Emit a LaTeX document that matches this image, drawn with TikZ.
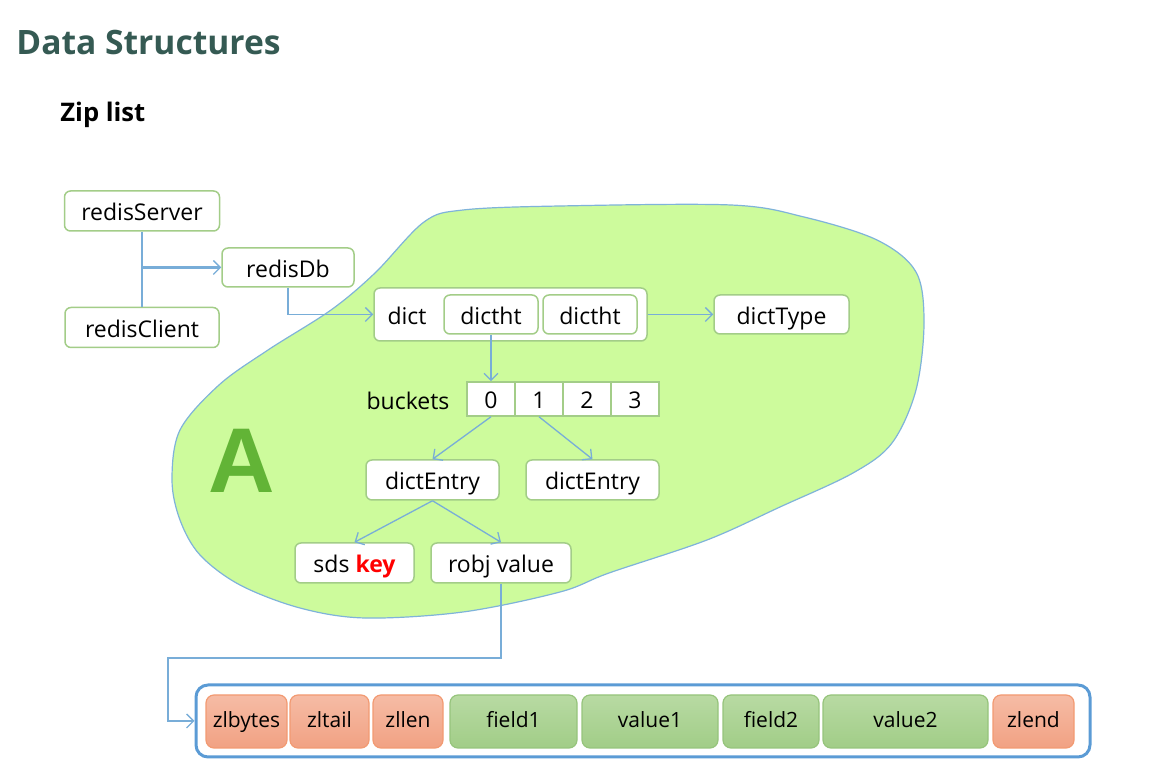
\documentclass[tikz,border=0pt]{standalone}
\usepackage{fontspec}
\setmainfont{Open Sans}
\newfontfamily\bigfont{Liberation Sans}
\usepackage{tikz}
\usetikzlibrary{arrows.meta}
\usepackage{xcolor}
\definecolor{titlecol}{HTML}{355A53}
\definecolor{boxline}{HTML}{A3CD88}
\definecolor{arrowcol}{HTML}{78ADD8}
\definecolor{blobfill}{HTML}{CDFB9C}
\definecolor{blobline}{HTML}{7FB3DA}
\definecolor{zipline}{HTML}{5B9BD5}
\definecolor{orangetop}{HTML}{F6BCA5}
\definecolor{orangebot}{HTML}{F1A183}
\definecolor{orangeline}{HTML}{F29A72}
\definecolor{greentop}{HTML}{B8DAA3}
\definecolor{greenbot}{HTML}{A1CD87}
\definecolor{greenline}{HTML}{96C47C}
\definecolor{bigA}{HTML}{62B436}

\begin{document}
\begin{tikzpicture}[x=0.5pt,y=-0.5pt]
  \tikzset{box/.style = {shape=rectangle,draw=boxline,fill=white,rounded corners=3pt,line width=0.75pt,inner sep=0pt,minimum height=20pt,text height=10pt,text depth=0pt,font=\fontsize{11.5}{14}\selectfont}}
  \tikzset{cellbox/.style = {shape=rectangle,draw=boxline,fill=white,line width=0.75pt,inner sep=0pt,minimum width=24pt,minimum height=17pt,text height=10pt,text depth=0pt,font=\fontsize{11.5}{14}\selectfont}}
  \tikzset{plain/.style = {inner sep=0pt,text height=10pt,text depth=0pt,font=\fontsize{11.5}{14}\selectfont}}
  \tikzset{zlorange/.style = {shape=rectangle,draw=orangeline,top color=orangetop,bottom color=orangebot,rounded corners=4pt,line width=0.6pt,inner sep=0pt,minimum height=26.5pt,text height=8.5pt,text depth=2pt,font=\fontsize{10.5}{13}\selectfont}}
  \tikzset{zlgreen/.style = {shape=rectangle,draw=greenline,top color=greentop,bottom color=greenbot,rounded corners=4pt,line width=0.6pt,inner sep=0pt,minimum height=26.5pt,text height=8.5pt,text depth=2pt,font=\fontsize{10.5}{13}\selectfont}}
  \tikzset{edge/.style = {draw=arrowcol,line width=0.65pt,-tipB}}
  \tikzset{%
  tipB/.tip={Straight Barb[length=3.5pt,width=7pt,line width=0.65pt]},
}

  \useasboundingbox (0,0) rectangle (1174,774);

  % headings
  \node[anchor=base west,inner sep=0pt,text=titlecol,font=\fontsize{16.8}{20}\selectfont\bfseries] (title) at (16,55) {Data Structures};
  \node[anchor=base west,inner sep=0pt,font=\fontsize{12.8}{15}\selectfont\bfseries] (sub) at (60,122) {Zip list};

  % the blob
  \filldraw[fill=blobfill,draw=blobline,line width=0.6pt] plot[smooth cycle,tension=0.55] coordinates {
    (424,222) (463,210) (560,206) (731,205) (804,217) (877,240) (916,272) (924,323)
    (916,390) (892,443) (853,473) (780,507) (707,540) (609,573) (560,592) (463,612)
    (365,618) (300,608) (240,585) (200,555) (180,520) (172,480) (180,430) (219,385)
    (268,350) (331,310) (375,273)};
  \node[anchor=base,inner sep=0pt,text=bigA,font=\bigfont\bfseries\fontsize{46}{50}\selectfont] (A) at (241.5,493) {A};

  % server side
  \node[box,minimum width=77.5pt] (RS) at (142,211) {redisServer};
  \node[box,minimum width=77pt] (RC) at (142,327.5) {redisClient};
  \node[box,minimum width=66pt,minimum height=19.5pt] (DB) at (288,267.5) {redisDb};
  \coordinate (J) at (142,267.5);

  % dict
  \node[box,minimum width=136.5pt,minimum height=26.5pt] (D) at (510.5,314.5) {};
  \node[plain] (Dl) at (407,315) {dict};
  \node[box,minimum width=47pt,minimum height=19.5pt] (H1) at (491,314.5) {dictht};
  \node[box,minimum width=47pt,minimum height=19.5pt] (H2) at (590,314.5) {dictht};
  \node[box,minimum width=67.5pt,minimum height=19.5pt] (T) at (781.5,314.5) {dictType};

  % buckets
  \node[plain] (Bl) at (408,400) {buckets};
  \foreach \i in {0,...,3}
    \node[cellbox] (B\i) at (491+48*\i,399) {\i};

  % entries
  \node[box,minimum width=66.5pt] (E1) at (432.5,480) {dictEntry};
  \node[box,minimum width=66.5pt] (E2) at (592.5,480) {dictEntry};
  \node[box,minimum width=59.5pt] (K) at (354.5,563) {sds \textcolor{red}{\bfseries key}};
  \node[box,minimum width=70pt] (V) at (501,563) {robj value};

  % zip list
  \node[draw=zipline,line width=1.5pt,rounded corners=6pt,minimum width=447pt,minimum height=36pt,inner sep=0pt] (Z) at (643,721) {};
  \node[zlorange,minimum width=40.5pt] (zlbytes) at (246.5,721.5) {zlbytes};
  \node[zlorange,minimum width=39.5pt] (zltail) at (329.5,721.5) {zltail};
  \node[zlorange,minimum width=35pt] (zllen) at (408,721.5) {zllen};
  \node[zlgreen,minimum width=63.5pt] (field1) at (513.5,721.5) {field1};
  \node[zlgreen,minimum width=68pt] (value1) at (650,721.5) {value1};
  \node[zlgreen,minimum width=48pt] (field2) at (771,721.5) {field2};
  \node[zlgreen,minimum width=82.5pt] (value2) at (905.5,721.5) {value2};
  \node[zlorange,minimum width=40.5pt] (zlend) at (1033.5,721.5) {zlend};
  \coordinate (C) at (168,658);

  % connectors
  \draw[draw=arrowcol,line width=0.75pt] (RS) -- (RC);
  \draw[edge,line width=1.2pt] (J) -- (DB);
  \draw[edge] (DB.south) |- (D.west);
  \draw[edge] (V.south) |- (C) |- (Z.west);

  \foreach \from/\to in {D.east/T.west, H1.south/B0.north, B0.south/E1.north, B1.south/E2.north, E1.south/K.north, E1.south/V.north}
    \draw[edge] (\from) -- (\to);
\end{tikzpicture}
\end{document}
